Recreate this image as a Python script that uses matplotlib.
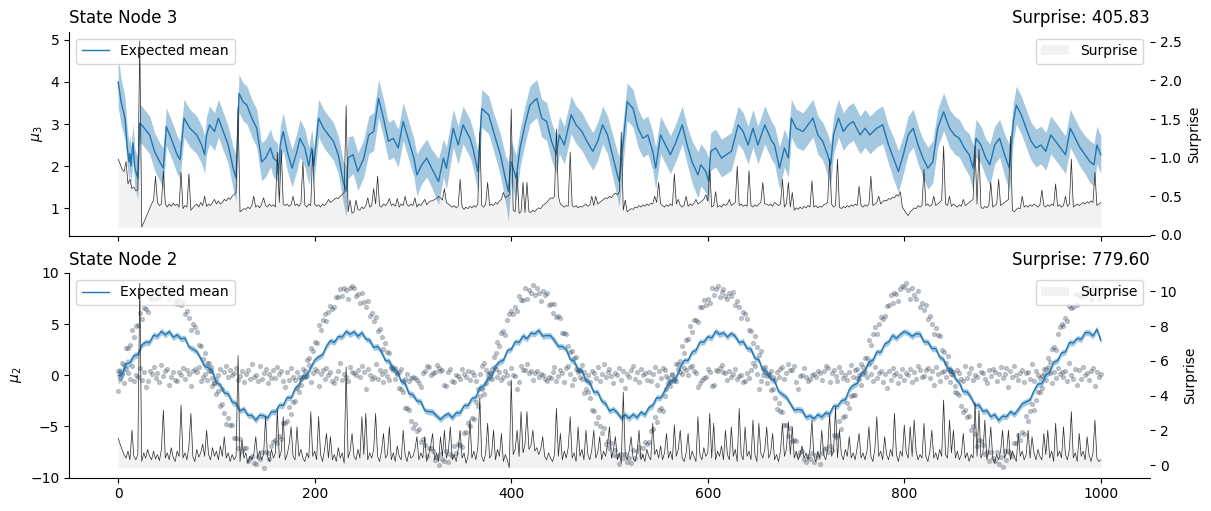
import numpy as np
import matplotlib.pyplot as plt

# ---------------- node 3 (top panel) ----------------
mean3_t = [0, 3, 7, 9, 11, 12, 13, 15, 17, 20,
           22, 25, 32, 37, 43, 46, 49, 55, 60, 63,
           67, 73, 80, 85, 88, 90, 93, 98, 102, 107,
           112, 117, 120, 123, 127, 131, 136, 141, 146, 150,
           155, 158, 162, 163, 165, 168, 172, 177, 182, 185,
           190, 194, 197, 199, 204, 209, 214, 219, 224, 229,
           232, 234, 239, 244, 250, 255, 260, 265, 270, 275,
           280, 285, 290, 296, 301, 304, 309, 314, 319, 326,
           331, 334, 341, 346, 351, 358, 361, 366, 370, 377,
           382, 389, 394, 397, 400, 405, 409, 414, 419, 426,
           431, 436, 441, 446, 449, 454, 461, 466, 472, 477,
           483, 488, 493, 498, 503, 508, 510, 513, 518, 524,
           529, 534, 539, 544, 547, 552, 557, 562, 568, 574,
           579, 584, 590, 593, 598, 601, 603, 608, 614, 619,
           624, 631, 636, 641, 646, 651, 658, 665, 668, 673,
           678, 682, 685, 690, 697, 702, 707, 712, 717, 722,
           725, 728, 733, 738, 743, 748, 755, 760, 765, 772,
           778, 784, 789, 794, 799, 804, 809, 814, 819, 824,
           829, 834, 840, 846, 851, 856, 861, 866, 870, 873,
           878, 883, 887, 892, 897, 902, 907, 911, 914, 919,
           924, 929, 934, 939, 944, 949, 954, 959, 964, 969,
           974, 979, 984, 989, 993, 996, 1000]
mean3_v = [4.0, 3.53, 3.13, 2.5, 2.1, 2.3, 2.0, 2.55, 1.95, 1.71,
           3.02, 2.95, 2.74, 2.35, 2.07, 1.95, 2.94, 2.59, 2.27, 2.15,
           3.14, 2.9, 2.74, 2.5, 2.27, 2.74, 2.98, 2.82, 3.14, 2.82,
           2.5, 1.95, 1.71, 3.73, 3.53, 3.45, 3.14, 2.9, 2.1, 2.19,
           2.43, 2.19, 2.1, 1.79, 2.5, 2.82, 2.35, 1.95, 2.35, 2.66,
           2.43, 2.0, 2.43, 2.0, 3.14, 2.9, 2.74, 2.59, 2.27, 1.63,
           1.4, 2.2, 2.27, 1.87, 2.19, 2.74, 2.82, 3.61, 3.14, 2.59,
           2.66, 2.43, 3.06, 2.59, 2.19, 1.79, 2.03, 2.19, 1.95, 1.63,
           2.19, 1.95, 2.9, 2.5, 2.98, 2.66, 2.43, 1.87, 3.37, 3.22,
           2.82, 2.27, 1.71, 1.4, 2.1, 1.71, 2.43, 2.98, 3.45, 3.61,
           3.14, 3.06, 2.59, 2.27, 2.74, 2.5, 3.22, 2.98, 2.82, 2.59,
           2.35, 2.59, 2.98, 2.74, 2.27, 1.79, 1.63, 2.35, 3.53, 3.37,
           2.9, 2.66, 2.74, 2.35, 1.95, 2.74, 2.5, 2.27, 2.59, 2.98,
           2.5, 2.1, 1.79, 2.03, 1.87, 1.63, 2.35, 2.43, 2.19, 2.27,
           2.35, 2.98, 2.82, 2.5, 2.9, 2.5, 2.98, 2.6, 2.5, 1.95,
           2.43, 2.19, 3.14, 2.9, 2.82, 2.98, 3.14, 2.74, 2.59, 2.27,
           2.03, 2.74, 3.14, 2.82, 2.98, 3.06, 2.74, 2.9, 2.74, 2.9,
           2.98, 2.5, 2.19, 1.87, 2.27, 2.74, 2.9, 2.5, 2.19, 1.95,
           2.1, 2.9, 3.29, 2.9, 2.74, 2.66, 2.43, 2.27, 1.95, 2.66,
           2.5, 2.19, 2.03, 2.5, 2.66, 2.27, 1.95, 3.06, 3.45, 3.22,
           2.9, 2.59, 2.43, 2.5, 2.35, 2.74, 2.59, 2.43, 2.27, 2.9,
           2.66, 2.43, 2.27, 2.1, 2.03, 2.5, 2.27]
std3 = [.6, .55, .5, .45, .45, .45, .45, .45, .45, .5,
        .45, .45, .45, .45, .45, .5, .45, .45, .45, .45,
        .45, .45, .45, .45, .45, .45, .45, .45, .45, .45,
        .45, .5, .55, .45, .45, .45, .45, .45, .45, .45,
        .45, .45, .45, .5, .45, .45, .45, .45, .45, .45,
        .45, .45, .45, .45, .45, .45, .45, .45, .45, .5,
        .6, .5, .45, .45, .45, .45, .45, .45, .45, .45,
        .45, .45, .45, .45, .45, .5, .45, .45, .45, .55,
        .45, .5, .45, .45, .45, .45, .45, .5, .45, .45,
        .45, .5, .55, .7, .5, .55, .45, .45, .45, .45,
        .45, .45, .45, .45, .45, .45, .45, .45, .45, .45,
        .45, .45, .45, .45, .5, .55, .6, .5, .45, .45,
        .45, .45, .45, .45, .5, .45, .45, .45, .45, .45,
        .45, .5, .55, .5, .5, .55, .45, .45, .45, .45,
        .45, .45, .45, .45, .45, .45, .45, .45, .45, .5,
        .45, .45, .45, .45, .45, .45, .45, .45, .45, .5,
        .5, .45, .45, .45, .45, .45, .45, .45, .45, .45,
        .45, .45, .5, .5, .45, .45, .45, .45, .45, .5,
        .5, .45, .45, .45, .45, .45, .45, .5, .55, .45,
        .45, .45, .5, .45, .45, .5, .55, .45, .45, .45,
        .45, .45, .45, .45, .45, .45, .45, .45, .45, .45,
        .45, .45, .45, .5, .5, .45, .45]

# surprise of node 3, one value every 2 time steps (0 .. 1000)
surprise3 = [
    0.98, 0.92, 0.85, 0.82, 0.95, 0.66, 0.72, 0.60, 0.62, 0.57,
    0.58, 2.51, 0.10, 0.16, 0.22, 0.28, 0.34, 0.40, 0.45, 0.76,
    0.42, 0.38, 0.40, 0.83, 0.40, 0.36, 0.40, 0.37, 0.41, 0.38,
    0.40, 0.36, 0.81, 0.34, 0.38, 0.36, 0.79, 0.32, 0.35, 0.38,
    0.40, 0.36, 0.42, 0.38, 0.50, 0.37, 0.40, 0.38, 0.42, 0.46,
    0.40, 0.44, 0.40, 0.42, 0.46, 0.44, 0.48, 0.46, 0.50, 0.52,
    0.55, 1.65, 0.30, 0.32, 0.34, 0.33, 0.36, 0.34, 0.38, 0.50,
    0.36, 0.38, 0.35, 0.40, 0.48, 0.38, 0.36, 0.40, 0.37, 0.39,
    0.36, 1.07, 0.42, 1.10, 0.40, 0.38, 0.40, 0.37, 0.39, 0.50,
    0.38, 0.40, 0.37, 0.41, 0.94, 0.39, 0.36, 0.40, 0.38, 1.10,
    0.40, 0.37, 0.39, 0.36, 0.40, 0.38, 0.41, 0.46, 0.42, 0.44,
    0.46, 0.48, 0.47, 0.50, 0.52, 0.55, 1.67, 0.30, 0.45, 0.28,
    0.30, 0.45, 0.33, 0.32, 0.36, 0.34, 0.38, 0.48, 0.36, 0.38,
    0.60, 0.40, 0.76, 0.38, 0.36, 0.40, 0.38, 0.41, 0.47, 0.38,
    0.40, 0.37, 0.47, 0.36, 0.40, 0.38, 0.50, 0.39, 0.37, 0.40,
    0.38, 0.48, 0.36, 0.40, 0.38, 0.42, 0.46, 0.39, 0.42, 0.44,
    0.44, 0.46, 0.47, 0.50, 0.48, 0.45, 0.60, 0.42, 0.40, 0.38,
    0.36, 0.38, 0.35, 0.37, 0.72, 0.36, 0.33, 0.36, 0.34, 0.37,
    0.35, 0.38, 0.36, 0.40, 1.33, 0.38, 0.36, 0.40, 0.68, 0.38,
    0.40, 0.38, 0.42, 0.40, 0.44, 0.46, 0.55, 0.48, 0.50, 0.52,
    1.63, 0.32, 0.30, 0.81, 0.28, 0.30, 0.68, 0.29, 0.68, 0.30,
    0.29, 0.32, 0.30, 0.33, 0.35, 0.34, 0.38, 0.40, 0.42, 0.45,
    0.48, 0.47, 0.50, 1.37, 0.50, 0.40, 0.38, 0.36, 0.38, 0.37,
    1.07, 0.38, 0.36, 0.38, 0.35, 0.37, 0.36, 0.38, 0.40, 0.37,
    0.39, 0.50, 0.38, 0.50, 0.40, 0.42, 0.44, 0.46, 0.48, 0.47,
    0.50, 0.48, 0.52, 0.54, 0.52, 0.56, 1.33, 0.32, 0.45, 0.30,
    0.32, 0.34, 0.33, 0.36, 0.35, 0.38, 0.36, 0.39, 0.37, 0.40,
    0.38, 0.41, 0.40, 0.50, 0.42, 0.68, 0.40, 0.38, 0.36, 0.39,
    0.37, 0.40, 0.38, 0.79, 0.40, 0.46, 0.38, 0.36, 0.39, 0.50,
    0.37, 0.40, 0.38, 0.41, 0.46, 0.40, 0.42, 0.44, 0.46, 0.52,
    0.44, 0.85, 0.36, 0.38, 0.56, 0.36, 0.38, 0.36, 0.40, 0.38,
    0.40, 0.46, 0.38, 0.40, 0.42, 0.89, 0.38, 0.40, 0.37, 0.39,
    0.37, 0.83, 0.38, 0.36, 0.39, 0.37, 0.40, 0.42, 0.68, 0.40,
    0.40, 0.38, 0.40, 0.37, 0.42, 0.40, 0.38, 0.40, 0.72, 0.36,
    0.40, 0.68, 0.36, 0.55, 0.32, 0.35, 0.33, 0.36, 0.34, 0.37,
    0.35, 0.38, 0.36, 0.70, 0.36, 0.38, 0.35, 0.37, 0.36, 0.39,
    0.40, 0.42, 0.98, 0.40, 0.36, 0.38, 0.98, 0.36, 0.34, 0.37,
    0.35, 0.38, 0.36, 0.39, 0.37, 0.40, 0.38, 0.63, 0.38, 0.36,
    0.39, 0.37, 0.40, 0.76, 0.38, 0.40, 0.42, 0.50, 0.40, 0.43,
    0.45, 0.44, 0.47, 0.46, 0.49, 0.48, 0.52, 0.50, 0.56, 0.36,
    0.32, 0.28, 0.25, 0.30, 0.32, 0.35, 0.34, 0.38, 0.36, 0.38,
    0.85, 0.38, 0.40, 0.37, 0.39, 0.50, 0.38, 0.40, 0.42, 0.45,
    1.15, 0.40, 0.38, 0.50, 0.37, 0.40, 0.38, 0.36, 0.39, 0.37,
    0.46, 0.38, 0.40, 0.42, 0.44, 0.46, 1.15, 0.40, 1.11, 0.36,
    0.34, 0.37, 0.35, 0.38, 0.68, 0.36, 0.38, 0.40, 0.72, 0.38,
    0.40, 0.42, 0.44, 0.46, 1.28, 0.32, 0.30, 0.33, 0.35, 0.34,
    0.50, 0.36, 0.38, 0.36, 0.39, 0.37, 0.40, 0.38, 0.36, 0.39,
    0.58, 0.38, 0.36, 0.39, 0.37, 0.40, 0.38, 0.66, 0.37, 0.39,
    0.36, 0.38, 0.50, 0.37, 0.40, 0.98, 0.36, 0.38, 0.40, 0.38,
    0.40, 0.42, 0.40, 0.43, 0.41, 0.44, 0.42, 0.81, 0.38, 0.40,
    0.42]

# ---------------- node 2 (bottom panel) ----------------
# expected mean of node 2, one value every 4 time steps (0 .. 1000)
mean2 = [
    -0.05, 0.08, 1.12, 1.24, 1.9, 2.02, 2.95, 3.23, 3.2, 3.92,
    3.81, 4.29, 3.95, 4.28, 3.7, 3.94, 3.56, 3.62, 2.77, 2.56,
    2.32, 1.63, 0.87, 0.73, 0.34, -0.71, -0.95, -1.71, -1.81, -2.61,
    -2.77, -3.48, -3.28, -3.91, -3.93, -4.38, -3.9, -3.95, -4.18, -3.54,
    -3.59, -2.92, -2.95, -2.17, -2.21, -1.31, -0.93, -0.04, 0.01, 0.75,
    1.48, 1.79, 2.01, 2.85, 3.38, 3.21, 3.79, 3.74, 4.28, 4.0,
    4.24, 3.81, 4.16, 3.54, 3.41, 2.72, 2.81, 2.28, 1.44, 1.38,
    0.55, 0.36, -0.59, -0.78, -1.8, -1.9, -2.5, -2.57, -3.44, -3.55,
    -3.58, -3.96, -4.32, -3.95, -3.76, -4.15, -3.67, -3.67, -2.96, -2.95,
    -2.28, -2.17, -1.17, -1.05, -0.36, -0.16, 0.89, 1.31, 1.47, 2.4,
    2.54, 3.28, 3.22, 3.85, 3.57, 4.12, 4.04, 4.39, 3.82, 3.88,
    3.87, 3.4, 2.81, 2.81, 2.53, 1.55, 1.35, 0.57, 0.43, -0.48,
    -0.76, -1.64, -1.64, -2.5, -2.77, -3.5, -3.31, -3.66, -4.19, -3.86,
    -4.2, -3.82, -4.12, -3.6, -3.86, -3.16, -2.95, -2.18, -2.23, -1.54,
    -0.82, -0.48, -0.18, 0.77, 1.45, 1.46, 2.25, 2.44, 3.24, 3.24,
    3.77, 3.65, 4.3, 3.99, 4.15, 3.74, 4.1, 3.8, 3.18, 3.3,
    2.62, 2.54, 1.67, 1.51, 0.48, 0.34, -0.36, -0.55, -1.57, -1.88,
    -2.15, -2.77, -3.41, -3.33, -3.43, -4.12, -3.95, -4.25, -3.83, -4.08,
    -3.67, -3.79, -3.0, -3.04, -2.49, -2.39, -1.4, -0.98, -0.8, 0.2,
    0.45, 1.33, 1.45, 2.29, 2.24, 3.04, 3.25, 3.89, 3.62, 3.99,
    4.28, 4.1, 3.8, 4.07, 4.03, 3.27, 3.25, 2.62, 2.6, 1.78,
    1.53, 0.65, 0.61, -0.34, -0.73, -1.61, -1.62, -2.19, -2.97, -2.91,
    -3.53, -3.45, -4.05, -3.84, -4.4, -3.99, -4.05, -3.55, -3.82, -3.34,
    -2.79, -2.59, -2.4, -1.51, -0.85, -0.82, 0.03, 0.33, 1.27, 1.44,
    2.18, 2.29, 3.2, 3.16, 3.61, 3.5, 4.17, 4.17, 3.85, 4.5,
    3.4]
std2 = [
    .8, .6, .45, .38, .35, .32, .3, .3, .3, .3,
    .3, .32, .3, .28, .3, .3, .32, .3, .28, .3,
    .3, .28, .3, .3, .32, .3, .3, .28, .3, .32,
    .32, .3, .3, .28, .3, .32, .3, .3, .28, .3,
    .3, .3, .32, .3, .28, .3, .3, .32, .3, .3,
    .28, .3, .3, .32, .3, .3, .28, .3, .32, .3,
    .3, .32, .3, .28, .3, .3, .32, .3, .28, .3,
    .3, .28, .3, .3, .32, .3, .3, .28, .3, .32,
    .32, .3, .3, .28, .3, .32, .3, .3, .28, .3,
    .3, .3, .32, .3, .28, .3, .3, .32, .3, .3,
    .28, .3, .3, .32, .3, .3, .28, .3, .32, .3,
    .3, .32, .3, .28, .3, .3, .32, .3, .28, .3,
    .3, .28, .3, .3, .32, .3, .3, .28, .3, .32,
    .32, .3, .3, .28, .3, .32, .3, .3, .28, .3,
    .3, .3, .32, .3, .28, .3, .3, .32, .3, .3,
    .28, .3, .3, .32, .3, .3, .28, .3, .32, .3,
    .3, .32, .3, .28, .3, .3, .32, .3, .28, .3,
    .3, .28, .3, .3, .32, .3, .3, .28, .3, .32,
    .32, .3, .3, .28, .3, .32, .3, .3, .28, .3,
    .3, .3, .32, .3, .28, .3, .3, .32, .3, .3,
    .28, .3, .3, .32, .3, .3, .28, .3, .32, .3,
    .3, .32, .3, .28, .3, .3, .32, .3, .28, .3,
    .3, .28, .3, .3, .32, .3, .3, .28, .3, .32,
    .32, .3, .3, .28, .3, .32, .3, .3, .28, .3,
    .3, .3, .32, .3, .28, .3, .3, .32, .3, .3,
    .3]

# surprise of node 2, every 2 time steps
surprise2 = [
    1.55, 1.2, 0.9, 0.6, 0.4, 0.8, 0.3, 2.0, 0.5, 0.3,
    0.6, 10.46, 0.2, 0.7, 0.4, 0.9, 0.5, 0.3, 0.8, 0.35,
    0.6, 0.25, 0.9, 3.16, 0.4, 0.7, 0.3, 1.0, 0.45, 0.2,
    0.8, 0.5, 3.45, 0.4, 0.7, 0.3, 1.1, 2.97, 0.5, 0.2,
    0.9, 0.45, 0.7, 1.2, 0.5, 2.0, 0.6, 0.3, 1.0, 0.5,
    0.8, 0.3, 1.1, 0.5, 1.63, 0.4, 0.7, 0.2, 0.6, 0.3,
    0.5, 6.3, 0.2, 1.44, 0.4, 0.7, 0.1, 0.5, 0.3, 0.6,
    1.63, 0.4, 0.8, 0.3, 0.6, 2.78, 0.5, 0.2, 0.9, 0.4,
    0.7, 3.16, 0.4, 0.8, 2.78, 0.3, 0.6, 1.2, 2.2, 0.5,
    0.3, 2.2, 0.5, 0.9, 0.4, 0.2, 0.7, 0.4, 3.07, 0.5,
    0.8, 0.3, 2.78, 0.6, 0.2, 0.9, 1.82, 0.4, 1.63, 0.3,
    0.6, 0.2, 1.0, 0.4, 0.7, 0.1, 5.65, 0.4, 0.8, 1.82,
    0.5, 0.3, 0.9, 0.4, 2.78, 0.6, 2.97, 0.3, 0.7, 0.4,
    0.9, 2.97, 0.5, 0.2, 0.8, 1.82, 0.4, 0.6, 2.2, 0.3,
    0.7, 0.2, 1.1, 0.5, 0.3, 2.0, 0.6, 0.2, 0.8, 0.4,
    0.5, 0.9, 1.63, 0.3, 0.7, 0.4, 1.63, 0.2, 0.6, 1.1,
    1.82, 0.3, 0.7, 0.2, 1.63, 0.5, 2.0, 0.4, 0.8, 2.2,
    0.3, 0.6, 0.2, 0.9, 2.0, 0.4, 0.7, 0.1, 0.5, 2.59,
    0.4, 0.8, 0.3, 1.0, 3.84, 0.5, 0.2, 0.7, 2.4, 0.4,
    0.6, 2.0, 0.3, 0.9, 0.5, 1.82, 0.2, 0.6, 0.3, -0.15,
    4.9, 0.6, 0.9, 2.0, 0.5, 3.07, 0.7, 1.2, 3.07, 0.9,
    1.1, 2.0, 0.8, 1.0, 0.6, 0.9, 1.63, 0.5, 0.3, 0.7,
    0.4, 0.2, 0.6, 3.26, 0.5, 1.82, 0.3, 0.8, 0.4, 1.0,
    2.78, 0.4, 0.7, 0.2, 2.2, 0.5, 0.9, 0.3, 2.0, 0.6,
    0.3, 0.9, 2.0, 0.4, 0.7, 1.63, 0.3, 0.8, 0.5, 1.2,
    2.2, 0.4, 0.9, 1.63, 0.3, 0.7, 0.1, 4.2, 0.6, 0.3,
    0.8, 1.63, 0.4, 0.2, 0.7, 2.0, 0.3, 0.6, 0.2, 0.9,
    0.5, 0.3, 2.4, 0.6, 0.9, 0.4, 1.1, 0.3, 0.7, 1.82,
    0.4, 0.8, 0.3, 2.3, 0.5, 0.9, 2.0, 0.4, 0.2, 0.7,
    1.82, 0.3, 0.8, 0.5, 0.2, 2.78, 0.6, 0.3, 1.0, 0.5,
    0.7, 2.97, 0.4, 2.4, 0.3, 0.8, 0.5, 1.1, 0.3, 2.0,
    0.6, 0.3, 2.2, 0.5, 0.9, 0.2, 3.26, 0.6, 0.3, 2.2,
    0.5, 0.8, 0.3, 2.59, 0.6, 0.2, 2.4, 0.7, 0.4, 0.9,
    2.2, 0.4, 0.7, 1.82, 0.3, 0.6, 0.2, 0.8, 2.4, 0.5,
    0.9, 2.5, 0.6, 2.2, 0.4, 0.8, 0.3, 0.6, 1.1, 0.4,
    0.7, 0.3, 0.9, 2.59, 0.5, 0.2, 0.8, 0.4, 2.0, 0.6,
    0.3, 0.9, 2.9, 0.5, 0.8, 3.35, 0.4, 2.0, 0.6, 0.3,
    0.9, 0.5, 1.63, 0.4, 0.7, 0.3, 1.0, 1.82, 0.4, 0.7,
    0.3, 0.8, 2.2, 0.5, 0.2, 0.9, 2.78, 0.5, 0.8, 0.3,
    1.63, 0.6, 0.3, 0.9, 0.5, 2.97, 0.6, 0.2, 0.8, 0.5,
    2.3, 0.7, 0.4, 2.2, 0.5, 2.59, 0.8, 0.3, 0.6, 0.4,
    2.4, 0.5, 0.2, 0.8, 2.0, 0.4, 0.7, 0.3, 0.9, 0.5,
    3.74, 0.6, 0.4, 2.59, 0.7, 2.0, 0.4, 0.8, 0.3, 0.6,
    1.82, 0.4, 0.7, 0.2, 0.6, 0.4, 3.6, 0.5, 3.16, 0.4,
    0.7, 2.59, 0.3, 0.8, 2.2, 0.4, 0.1, 0.6, 0.3, 0.8,
    2.0, 0.4, 0.7, 2.0, 0.3, 0.8, 0.5, 0.2, 1.82, 0.5,
    0.8, 0.3, 0.6, 2.0, 0.4, 1.63, 0.7, 0.3, 0.9, 0.5,
    0.3, 1.82, 0.6, 2.0, 0.4, 0.8, 0.2, 2.4, 0.5, 0.8,
    0.4, 2.2, 0.6, 0.3, 0.9, 3.07, 0.4, 0.7, 0.2, 1.82,
    0.5, 0.8, 0.3, 1.63, 0.6, 0.2, 0.7, 2.59, 0.4, 0.2,
    0.3]

# observations of the two children, every 2 time steps
obs_wave = [
    0.4, 0.3, 1.2, 1.0, 2.7, 2.7, 3.0, 4.4, 3.7, 4.8,
    4.9, 6.1, 5.5, 6.6, 6.5, 6.2, 7.6, 7.5, 8.1, 7.5,
    8.1, 7.6, 8.9, 8.0, 8.5, 8.7, 7.5, 7.9, 8.0, 7.3,
    7.0, 7.4, 6.9, 7.2, 6.0, 6.3, 5.6, 4.4, 5.0, 4.7,
    4.2, 3.0, 2.9, 1.6, 2.2, 1.2, 0.4, 0.8, -1.0, -0.8,
    -1.8, -1.5, -3.0, -2.8, -3.7, -4.8, -4.2, -4.9, -4.9, -6.1,
    -6.1, -7.1, -6.2, -7.4, -7.1, -7.1, -8.4, -8.1, -7.9, -8.6,
    -8.7, -8.0, -8.2, -7.5, -9.1, -7.5, -7.6, -8.2, -6.9, -6.5,
    -6.3, -6.6, -5.9, -6.2, -4.7, -4.7, -4.5, -3.1, -3.8, -2.6,
    -2.5, -1.2, -1.6, -0.4, -0.2, -0.2, 1.5, 1.7, 2.7, 2.4,
    3.3, 3.2, 4.9, 4.4, 5.4, 6.0, 5.3, 6.2, 6.8, 6.5,
    6.7, 7.6, 7.6, 8.4, 7.7, 8.5, 8.3, 7.5, 8.5, 8.7,
    8.5, 7.7, 7.9, 7.1, 8.0, 7.2, 6.7, 7.3, 5.8, 6.1,
    5.3, 5.7, 4.3, 4.5, 3.7, 2.6, 3.2, 2.3, 2.2, 0.9,
    0.7, -0.4, 0.2, -1.2, -1.3, -1.6, -3.2, -3.2, -3.4, -4.5,
    -5.1, -4.8, -5.4, -5.2, -6.5, -6.2, -6.8, -7.9, -7.1, -7.1,
    -7.4, -8.3, -8.0, -8.8, -7.7, -8.2, -8.4, -7.4, -8.5, -7.7,
    -7.9, -6.9, -7.6, -6.7, -6.8, -7.0, -5.6, -5.5, -4.7, -5.0,
    -4.2, -4.3, -2.6, -3.0, -2.0, -1.3, -1.8, -0.8, 0.1, 0.2,
    0.6, 1.8, 2.2, 3.3, 2.9, 4.1, 4.3, 3.9, 5.4, 6.0,
    6.3, 6.0, 6.7, 6.3, 7.7, 7.4, 7.4, 8.5, 7.5, 8.3,
    8.0, 8.8, 7.8, 8.5, 8.0, 7.3, 8.2, 7.8, 8.0, 6.9,
    7.0, 6.1, 7.0, 5.7, 5.8, 5.6, 4.1, 4.1, 4.0, 2.9,
    2.3, 2.4, 1.7, 1.8, 0.3, 0.5, -0.4, -1.7, -1.3, -1.6,
    -2.2, -3.4, -3.5, -4.7, -4.1, -5.0, -5.6, -5.1, -6.7, -6.4,
    -7.1, -6.6, -7.8, -7.3, -7.9, -8.7, -7.7, -8.1, -7.7, -8.5,
    -8.1, -8.6, -7.3, -8.1, -7.4, -7.0, -7.8, -7.1, -6.5, -6.7,
    -6.5, -5.4, -5.2, -4.1, -4.6, -3.4, -3.2, -3.5, -2.0, -1.3,
    -0.8, -1.0, 0.0, -0.6, 1.1, 1.1, 1.4, 2.9, 2.2, 3.4,
    3.5, 4.8, 4.2, 5.4, 5.4, 5.2, 6.7, 6.7, 7.4, 6.9,
    7.5, 7.1, 8.5, 7.8, 8.4, 8.7, 7.6, 8.1, 8.4, 7.7,
    7.5, 8.0, 7.7, 8.1, 6.9, 7.3, 6.7, 5.6, 6.2, 6.0,
    5.5, 4.4, 4.3, 3.2, 3.8, 2.8, 2.0, 2.4, 0.7, 0.8,
    -0.1, 0.1, -1.4, -1.3, -2.2, -3.3, -2.7, -3.5, -3.6, -4.9,
    -4.9, -5.9, -5.1, -6.4, -6.3, -6.4, -7.8, -7.5, -7.4, -8.2,
    -8.5, -7.9, -8.2, -7.6, -8.5, -7.8, -8.0, -8.7, -7.6, -7.2,
    -7.1, -7.5, -6.9, -7.3, -5.8, -6.0, -5.8, -4.5, -5.2, -4.1,
    -4.0, -2.7, -3.2, -2.0, -1.9, -1.9, -0.3, 0.0, 1.1, 0.8,
    1.7, 1.7, 3.4, 3.0, 4.0, 4.7, 4.0, 5.0, 5.7, 5.5,
    5.8, 6.8, 6.9, 7.8, 7.1, 8.0, 7.9, 7.3, 8.4, 8.7,
    8.6, 9.0, 8.3, 7.5, 8.5, 7.8, 7.5, 8.2, 6.7, 7.1,
    6.4, 6.9, 5.5, 5.8, 5.0, 4.0, 4.6, 3.9, 3.8, 2.5,
    2.3, 1.2, 1.9, 0.4, 0.4, 0.0, -1.6, -1.7, -1.9, -3.0,
    -3.6, -3.4, -4.1, -4.0, -5.3, -5.0, -5.7, -6.9, -6.3, -6.4,
    -6.8, -7.7, -7.5, -8.4, -7.5, -8.1, -8.4, -7.5, -8.7, -8.0,
    -9.0, -7.4, -8.3, -7.4, -7.6, -7.9, -6.6, -6.6, -5.8, -6.3,
    -5.5, -5.7, -4.0, -4.5, -3.5, -2.8, -3.4, -2.4, -1.6, -1.6,
    -1.2, 0.1, 0.6, 1.7, 1.3, 2.6, 2.8, 2.5, 4.0, 4.7,
    5.0, 4.8, 5.6, 5.3, 6.8, 6.6, 6.7, 7.9, 6.9, 7.8,
    7.6, 8.6, 7.7, 8.5, 8.1, 7.5, 8.6, 8.2, 8.5, 7.5,
    7.9]
obs_flat = [
    -1.5, -0.3, 0.1, -0.8, 0.6, 0.2, -0.4, 0.9, -0.6, 0.0,
    -0.2, 0.7, -0.5, 0.3, -1.1, -0.6, 0.4, 0.1, 0.8, -0.3,
    0.2, -0.7, 1.0, -0.1, 0.4, 0.6, -0.9, -0.2, 0.3, -0.5,
    -0.6, 0.3, 0.0, 0.7, -0.4, 0.5, 0.1, -1.0, 0.4, 0.6,
    0.3, 0.8, -0.6, -0.2, 0.1, -0.5, 1.2, 0.4, -0.3, -0.8,
    -0.4, 0.0, 0.6, -1.3, 0.3, 0.9, -0.2, 0.5, 0.0, 0.2,
    0.7, -0.5, -0.1, 0.4, -0.7, 0.1, 0.5, -0.4, 1.1, -0.2,
    0.0, -0.6, 0.9, -0.4, 0.2, 0.6, -0.8, 0.1, -0.3, 0.5,
    -0.3, 0.8, 0.1, 0.4, -0.6, -1.1, 0.3, -0.5, 0.7, -0.2,
    -0.5, 0.3, -0.2, -0.9, 0.6, 0.4, -0.1, 1.0, -0.7, 0.2,
    0.6, 0.4, -1.0, 0.1, 0.5, -0.4, 0.7, 0.0, 0.3, -0.6,
    -0.8, -0.3, 0.4, 1.2, -0.5, 0.1, -0.2, -0.6, 0.8, 0.3,
    0.2, 0.0, 0.5, -0.2, 0.9, 0.3, -1.3, 0.6, 0.0, -0.4,
    -0.2, 1.1, -0.4, 0.5, 0.1, -0.7, 0.4, -0.1, -0.5, 0.7,
    0.5, 0.7, 0.1, 0.3, 0.6, -0.6, -0.4, 0.1, -0.6, -0.3,
    -0.2, -0.3, -0.5, -0.8, -1.1, 0.2, 0.4, 0.9, 0.8, 0.0,
    0.2, 0.3, 1.0, 0.7, 0.4, 0.5, -0.9, -1.0, 0.3, 0.6,
    -0.6, -0.7, 0.0, -0.1, -0.4, 0.6, 0.1, -0.2, 0.4, -0.5,
    0.3, 0.0, -0.6, -1.3, 0.1, 0.9, 1.2, 0.5, -0.3, 0.2,
    -0.4, 0.8, 0.6, -0.2, 0.3, -0.5, -0.2, 0.4, 0.0, -0.8,
    0.7, 0.0, -0.1, -1.3, -0.7, 0.9, 0.5, 0.5, 1.1, 0.2,
    0.4, -0.5, 0.2, 0.4, -0.2, 0.1, 0.0, -0.4, -0.6, -0.2,
    -0.3, 0.3, 0.8, -0.6, -0.1, 0.5, 0.2, -0.7, 0.7, 0.9,
    0.1, -0.9, -0.4, 0.6, 0.5, -0.2, 1.0, 0.3, -0.5, 0.0,
    -0.7, 0.4, 0.2, -0.3, 0.8, -0.6, 0.1, 1.1, -0.2, 0.3,
    0.6, -0.1, -0.8, 0.2, 0.0, 0.7, -0.5, 0.4, -1.2, 0.1,
    -0.2, 0.5, 0.9, -0.4, 0.3, -0.7, 0.6, 0.0, 0.2, -0.5,
    0.3, -0.6, 0.1, 0.8, -0.9, 0.4, -0.3, 0.7, 0.5, -0.1,
    -0.3, -0.6, 0.1, -0.4, -0.6, 0.6, 0.3, 0.1, 0.7, 0.5,
    0.0, 0.8, 0.9, 0.4, 0.2, -1.1, -0.8, -0.5, -0.3, -0.2,
    0.6, 0.3, -1.0, -0.9, 0.5, 0.4, 0.7, 1.0, 0.3, 0.2,
    -0.5, 0.4, -0.2, 0.1, 0.6, -0.4, -0.1, 0.0, -0.7, -0.6,
    0.2, -0.3, 0.5, 1.2, 0.9, 0.1, -1.3, -0.6, 0.0, 0.3,
    -0.8, 0.0, 0.4, -0.2, -0.5, 0.3, -0.2, 0.6, 0.8, -0.4,
    0.2, 1.1, 0.5, 0.5, 0.9, -0.7, -1.3, -0.1, 0.0, 0.7,
    -0.2, -0.6, -0.4, 0.0, 0.1, -0.2, 0.4, 0.2, -0.5, 0.4,
    0.9, 0.7, -0.7, 0.2, 0.5, -0.1, -0.6, 0.8, 0.3, -0.3,
    0.0, -0.5, 0.3, 1.0, -0.2, 0.5, 0.6, -0.4, -0.9, 0.1,
    0.3, -0.2, 1.1, 0.1, -0.6, 0.8, -0.3, 0.2, 0.4, -0.7,
    0.1, -1.2, 0.4, -0.5, 0.7, 0.0, 0.2, -0.8, -0.1, 0.6,
    -0.5, 0.2, 0.0, 0.6, -0.7, 0.3, -0.4, 0.9, 0.5, -0.2,
    -0.1, 0.5, 0.7, -0.3, 0.4, -0.9, 0.8, 0.1, -0.6, 0.3,
    0.4, -0.2, 0.6, -0.7, 0.1, 0.3, -1.0, 0.5, 0.2, -0.4,
    -0.6, 0.9, -0.3, 0.2, 0.7, -0.5, 0.0, -0.2, 1.0, 0.3,
    0.2, -0.4, -0.8, 0.5, -0.1, 0.6, 0.3, -0.6, 0.1, 0.8,
    -0.3, 0.1, 0.7, -1.1, 0.4, -0.2, 0.9, 0.0, -0.5, 0.2,
    0.5, -0.7, 0.2, 0.3, -0.4, 1.1, -0.6, 0.4, 0.0, -0.3,
    -0.1, 0.6, -0.5, 0.8, 0.2, -0.8, 0.3, -0.3, 0.7, 0.1,
    0.3, -0.2, 0.4, -0.6, 1.2, 0.0, -0.4, 0.6, -0.9, 0.5,
    -0.4, 0.8, 0.0, 0.2, -0.5, 0.4, 0.7, -1.0, 0.3, -0.2,
    0.1]

t2 = np.arange(0, 1001, 2)
t4 = np.arange(0, 1001, 4)
blue = "#1f77b4"

fig, axs = plt.subplots(2, 1, figsize=(12.11, 5.11), dpi=100, sharex=True)
fig.subplots_adjust(left=0.057, right=0.9496, bottom=0.0652, top=0.938, hspace=0.178)

panels = [
    (axs[0], mean3_t, mean3_v, std3, surprise3, r"$\mu_3$", "State Node 3", "Surprise: 405.83"),
    (axs[1], t4, mean2, std2, surprise2, r"$\mu_2$", "State Node 2", "Surprise: 779.60"),
]

for ax, mt, mv, sd, surp, ylab, title, surp_title in panels:
    mv = np.asarray(mv)
    sd = np.asarray(sd)
    ax.fill_between(mt, mv - sd, mv + sd, color=blue, alpha=0.4, linewidth=0)
    ax.plot(mt, mv, color=blue, linewidth=1, label="Expected mean")
    if ax is axs[1]:
        ax.scatter(t2, obs_wave, s=8, color="#2a3a50", alpha=0.25, linewidths=1)
        ax.scatter(t2, obs_flat, s=8, color="#2a3a50", alpha=0.25, linewidths=1)
    ax.set_ylabel(ylab)
    ax.set_title(title, loc="left")
    ax.set_title(surp_title, loc="right")
    ax.legend(loc="upper left")
    ax.spines[["top", "right"]].set_visible(False)

    ax_s = ax.twinx()
    ax_s.fill_between(t2, surp, min(surp), color="grey", alpha=0.1, linewidth=0, label="Surprise")
    ax_s.plot(t2, surp, color="#2a2a2a", linewidth=0.5)
    ax_s.set_ylabel("Surprise")
    ax_s.legend(loc="upper right")
    ax_s.spines[["top", "right", "left", "bottom"]].set_visible(False)
    if ax is axs[0]:
        ax_s.set_ylim(-0.02, 2.63)
    else:
        ax_s.set_ylim(-0.73, 11.06)

axs[0].set_ylim(0.325, 5.197)
axs[1].set_ylim(-10, 10)
axs[1].set_xlim(-50, 1050)

fig.savefig("out.png", dpi=100)
